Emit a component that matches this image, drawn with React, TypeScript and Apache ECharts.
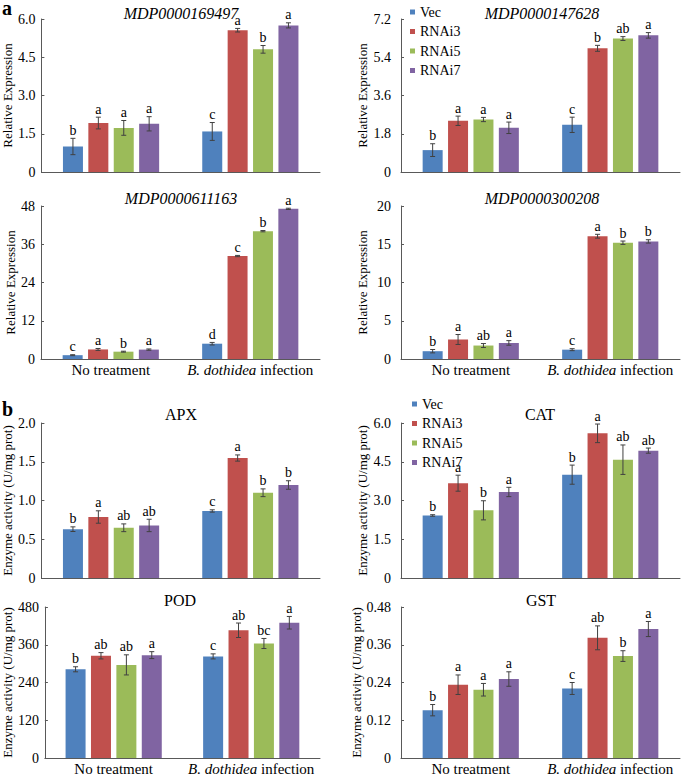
import React, { useEffect, useRef } from 'react';
import * as echarts from 'echarts';

const FONT = 'Liberation Serif';

const categories = ['No treatment', 'B. dothidea infection'];
const seriesNames = ['Vec', 'RNAi3', 'RNAi5', 'RNAi7'];
const colors = ['#4F81BD', '#C0504D', '#9BBB59', '#8064A2'];

// series order: Vec, RNAi3, RNAi5, RNAi7 ; each [No treatment, B. dothidea infection]
const mdp169497Means = [[1.0, 1.59], [1.92, 5.56], [1.73, 4.81], [1.89, 5.75]];
const mdp169497Errors = [[0.32, 0.35], [0.23, 0.07], [0.29, 0.15], [0.28, 0.1]];
const mdp169497Letters = [['b', 'c'], ['a', 'a'], ['a', 'b'], ['a', 'a']];

const mdp147628Means = [[1.03, 2.22], [2.41, 5.82], [2.47, 6.28], [2.08, 6.43]];
const mdp147628Errors = [[0.3, 0.36], [0.22, 0.14], [0.1, 0.09], [0.27, 0.13]];
const mdp147628Letters = [['b', 'c'], ['a', 'b'], ['a', 'ab'], ['a', 'a']];

const mdp611163Means = [[1.2, 4.8], [3.0, 32.3], [2.3, 40.1], [2.95, 47.1]];
const mdp611163Errors = [[0.15, 0.4], [0.3, 0.2], [0.15, 0.2], [0.2, 0.2]];
const mdp611163Letters = [['c', 'd'], ['a', 'c'], ['b', 'b'], ['a', 'a']];

const mdp300208Means = [[1.02, 1.22], [2.55, 16.05], [1.76, 15.2], [2.1, 15.37]];
const mdp300208Errors = [[0.22, 0.13], [0.65, 0.25], [0.26, 0.22], [0.3, 0.22]];
const mdp300208Letters = [['b', 'c'], ['a', 'a'], ['ab', 'b'], ['a', 'b']];

const apxMeans = [[0.63, 0.865], [0.787, 1.548], [0.648, 1.1], [0.678, 1.2]];
const apxErrors = [[0.03, 0.015], [0.08, 0.04], [0.05, 0.05], [0.08, 0.055]];
const apxLetters = [['b', 'c'], ['a', 'a'], ['ab', 'b'], ['ab', 'b']];

const catMeans = [[2.42, 4.0], [3.67, 5.6], [2.62, 4.58], [3.33, 4.93]];
const catErrors = [[0.03, 0.37], [0.31, 0.36], [0.37, 0.57], [0.18, 0.1]];
const catLetters = [['b', 'b'], ['a', 'a'], ['b', 'ab'], ['a', 'ab']];

const podMeans = [[282, 323], [325, 406], [296, 364], [327, 430]];
const podErrors = [[8, 8], [10, 23], [32, 16], [11, 20]];
const podLetters = [['b', 'c'], ['ab', 'ab'], ['ab', 'bc'], ['a', 'a']];

const gstMeans = [[0.152, 0.221], [0.233, 0.382], [0.217, 0.324], [0.251, 0.41]];
const gstErrors = [[0.018, 0.019], [0.031, 0.038], [0.02, 0.017], [0.023, 0.024]];
const gstLetters = [['b', 'c'], ['a', 'ab'], ['a', 'b'], ['a', 'a']];

const relName = 'Relative Expression';
const enzName = 'Enzyme activity (U/mg prot)';

const panels = [
  { title: 'MDP0000169497', italic: true, means: mdp169497Means, errors: mdp169497Errors, letters: mdp169497Letters, max: 6, interval: 1.5, dec: 1, yName: relName, showX: false, left: 41, top: 19, height: 153, nameGap: 24, labelMargin: 6, cx: 181, ty: 13 },
  { title: 'MDP0000147628', italic: true, means: mdp147628Means, errors: mdp147628Errors, letters: mdp147628Letters, max: 7.2, interval: 1.8, dec: 1, yName: relName, showX: false, left: 401, top: 19, height: 153, nameGap: 32, labelMargin: 10, cx: 542, ty: 13 },
  { title: 'MDP0000611163', italic: true, means: mdp611163Means, errors: mdp611163Errors, letters: mdp611163Letters, max: 48, interval: 12, dec: 0, yName: relName, showX: true, left: 41, top: 206, height: 153, nameGap: 24, labelMargin: 6, cx: 181, ty: 198 },
  { title: 'MDP0000300208', italic: true, means: mdp300208Means, errors: mdp300208Errors, letters: mdp300208Letters, max: 20, interval: 5, dec: 0, yName: relName, showX: true, left: 401, top: 206, height: 153, nameGap: 32, labelMargin: 10, cx: 542, ty: 198 },
  { title: 'APX', italic: false, means: apxMeans, errors: apxErrors, letters: apxLetters, max: 2, interval: 0.5, dec: 1, yName: enzName, showX: false, left: 41, top: 423, height: 155, nameGap: 24, labelMargin: 6, cx: 181, ty: 414.5 },
  { title: 'CAT', italic: false, means: catMeans, errors: catErrors, letters: catLetters, max: 6, interval: 1.5, dec: 1, yName: enzName, showX: false, left: 401, top: 423, height: 155, nameGap: 32, labelMargin: 10, cx: 540, ty: 414 },
  { title: 'POD', italic: false, means: podMeans, errors: podErrors, letters: podLetters, max: 480, interval: 120, dec: 0, yName: enzName, showX: true, left: 41, top: 607, height: 154, nameGap: 24, labelMargin: 6, cx: 180, ty: 600.5 },
  { title: 'GST', italic: false, means: gstMeans, errors: gstErrors, letters: gstLetters, max: 0.48, interval: 0.12, dec: 2, yName: enzName, showX: true, left: 401, top: 607, height: 154, nameGap: 32, labelMargin: 10, cx: 541, ty: 600.5 },
];

const STEP = 25.4;
const AXIS_COLOR = '#595959';

function buildOption() {
  const grid = panels.map((p) => ({ left: p.left, top: p.top, width: 279, height: p.height }));
  const xAxis = panels.map((p, i) => ({
    type: 'category',
    gridIndex: i,
    data: categories,
    axisLine: { show: true, lineStyle: { color: AXIS_COLOR, width: 1 } },
    axisTick: { show: false },
    splitLine: { show: false },
    axisLabel: {
      show: p.showX,
      margin: 3,
      fontSize: 15,
      fontFamily: FONT,
      color: '#000',
      interval: 0,
      formatter: (v: string) => (v === 'B. dothidea infection' ? '{i|B. dothidea} infection' : v),
      rich: { i: { fontStyle: 'italic', fontSize: 15, fontFamily: FONT, color: '#000' } },
    },
  }));
  const yAxis = panels.map((p, i) => ({
    type: 'value',
    gridIndex: i,
    min: 0,
    max: p.max,
    interval: p.interval,
    name: p.yName,
    nameLocation: 'middle',
    nameGap: p.nameGap,
    nameTextStyle: { fontSize: 13, fontFamily: FONT, color: '#000' },
    axisLine: { show: true, lineStyle: { color: AXIS_COLOR, width: 1 } },
    axisTick: { show: true, inside: true, length: 3, lineStyle: { color: AXIS_COLOR } },
    splitLine: { show: false },
    axisLabel: {
      margin: p.labelMargin,
      fontSize: 14,
      fontFamily: FONT,
      color: '#000',
      formatter: (v: number) => (v === 0 ? '0' : v.toFixed(p.dec)),
    },
  }));
  const series: any[] = [];
  panels.forEach((p, i) => {
    seriesNames.forEach((name, s) => {
      series.push({
        type: 'bar',
        name,
        xAxisIndex: i,
        yAxisIndex: i,
        data: p.means[s],
        barWidth: 20,
        barGap: '27%',
        itemStyle: { color: colors[s] },
        emphasis: { disabled: true },
      });
    });
    const errData: number[][] = [];
    const letterList: string[] = [];
    for (let c = 0; c < categories.length; c++) {
      for (let s = 0; s < seriesNames.length; s++) {
        errData.push([c, s, p.means[s][c], p.errors[s][c]]);
        letterList.push(p.letters[s][c]);
      }
    }
    series.push({
      type: 'custom',
      xAxisIndex: i,
      yAxisIndex: i,
      data: errData,
      encode: { x: 0, y: 2 },
      z: 10,
      silent: true,
      renderItem: (params: any, api: any) => {
        const cat = api.value(0);
        const s = api.value(1);
        const mean = api.value(2);
        const err = api.value(3);
        const base = api.coord([cat, mean]);
        const x = base[0] + (s - 1.5) * STEP;
        const top = api.coord([cat, mean + err])[1];
        const bot = api.coord([cat, mean - err])[1];
        const ls = { stroke: '#404040', lineWidth: 1 };
        return {
          type: 'group',
          children: [
            { type: 'line', shape: { x1: x, y1: top, x2: x, y2: bot }, style: ls },
            { type: 'line', shape: { x1: x - 2.5, y1: top, x2: x + 2.5, y2: top }, style: ls },
            { type: 'line', shape: { x1: x - 2.5, y1: bot, x2: x + 2.5, y2: bot }, style: ls },
            {
              type: 'text',
              x,
              y: top - 1,
              style: {
                text: letterList[params.dataIndex],
                fill: '#000',
                fontSize: 14,
                fontFamily: FONT,
                align: 'center',
                verticalAlign: 'bottom',
              },
            },
          ],
        };
      },
    });
  });

  const legendBase = {
    data: seriesNames,
    orient: 'vertical',
    itemWidth: 5,
    itemHeight: 5,
    itemGap: 5.5,
    icon: 'rect',
    padding: 0,
    textStyle: { fontSize: 14, fontFamily: FONT, color: '#000' },
  };

  const graphic: any[] = panels.map((p) => ({
    type: 'text',
    x: p.cx,
    y: p.ty,
    style: {
      text: p.title,
      fontSize: 16,
      fontFamily: FONT,
      fontStyle: p.italic ? 'italic' : 'normal',
      fill: '#000',
      align: 'center',
      verticalAlign: 'middle',
    },
  }));
  graphic.push({
    type: 'text', x: 2, y: 8,
    style: { text: 'a', fontSize: 20, lineHeight: 14, fontWeight: 'bold', fontFamily: FONT, fill: '#000', align: 'left', verticalAlign: 'middle' },
  });
  graphic.push({
    type: 'text', x: 2, y: 409,
    style: { text: 'b', fontSize: 20, fontWeight: 'bold', fontFamily: FONT, fill: '#000', align: 'left', verticalAlign: 'middle' },
  });

  return {
    animation: false,
    backgroundColor: '#fff',
    grid,
    xAxis,
    yAxis,
    legend: [
      { ...legendBase, left: 410, top: 5 },
      { ...legendBase, left: 412, top: 397 },
    ],
    graphic,
    series,
  };
}

export default function App() {
  const ref = useRef<HTMLDivElement>(null);
  useEffect(() => {
    if (!ref.current) return;
    const chart = echarts.init(ref.current, undefined, { renderer: 'svg' });
    chart.setOption(buildOption() as any);
    return () => chart.dispose();
  }, []);
  return (
    <div
      ref={ref}
      style={{ position: 'absolute', left: 0, top: 0, width: 685, height: 776, background: '#fff' }}
    />
  );
}
